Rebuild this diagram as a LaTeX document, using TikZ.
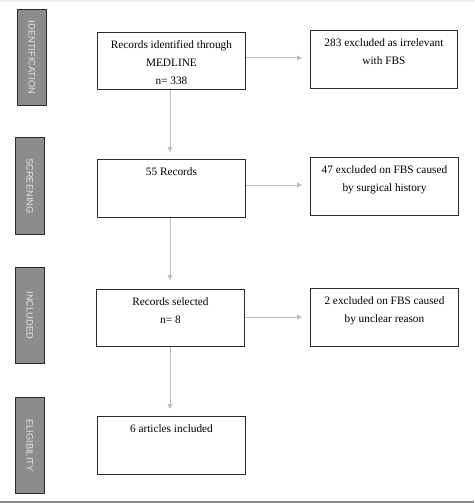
\documentclass[tikz,border=0pt]{standalone}
\usepackage{fontspec}
\setmainfont{Liberation Serif}
\setsansfont{Liberation Sans}
\usetikzlibrary{arrows.meta}
\definecolor{sidefill}{HTML}{8C8C8C}
\definecolor{sidetext}{HTML}{E6E6E6}
\definecolor{arrowgray}{HTML}{BDBDBD}
\definecolor{boxline}{HTML}{2B2B2B}
\definecolor{topband}{HTML}{ECECEC}
\definecolor{botband}{HTML}{8A8A8A}
\tikzset{
  sidebox/.style={draw=boxline, line width=0.9pt, fill=sidefill, minimum width=29pt, minimum height=96pt, inner sep=0pt, anchor=north west},
  sidelbl/.style={font=\sffamily\fontsize{9.3}{11}\selectfont, text=sidetext, rotate=-90, inner sep=0pt},
  mainbox/.style={draw=boxline, line width=0.9pt, minimum width=148pt, minimum height=57pt, inner sep=0pt, anchor=north west},
  boxtext/.style={font=\fontsize{11.3}{18}\selectfont, align=center, anchor=north, inner sep=0pt, yshift=-8.8pt},
  flow/.style={draw=arrowgray, line width=1pt, -{Triangle[length=5pt,width=5pt]}}
}
\begin{document}
\begin{tikzpicture}[x=1pt,y=-1pt]
\useasboundingbox (0,0) rectangle (474,503);
\fill[topband] (0,0) rectangle (474,2.5);
\fill[botband] (0,500.5) rectangle (474,503);
% side labels
\node[sidebox] (s1) at (17,9) {};
\node[sidelbl] (s1t) at (s1.center) {IDENTIFICATION};
\node[sidebox, minimum height=97pt] (s2) at (15,137) {};
\node[sidelbl] (s2t) at (s2.center) {SCREENING};
\node[sidebox] (s3) at (15,267) {};
\node[sidelbl] (s3t) at (s3.center) {INCLUDED};
\node[sidebox] (s4) at (15,397) {};
\node[sidelbl] (s4t) at (s4.center) {ELIGIBILITY};
% main boxes
\node[mainbox] (b1) at (97,32) {};
\node[boxtext] (b1t) at (b1.north) {Records identified through\\MEDLINE\\n= 338};
\node[mainbox, minimum height=58pt] (b2) at (97,159) {};
\node[boxtext] (b2t) at (b2.north) {55 Records};
\node[mainbox] (b3) at (96,289) {};
\node[boxtext] (b3t) at (b3.north) {Records selected\\n= 8};
\node[mainbox, minimum height=58pt] (b4) at (97,416) {};
\node[boxtext] (b4t) at (b4.north) {6 articles included};
% right boxes
\node[mainbox, minimum width=147pt, minimum height=58pt] (r1) at (310,30) {};
\node[boxtext] (r1t) at (r1.north) {283 excluded as irrelevant\\with FBS};
\node[mainbox, minimum height=58pt] (r2) at (310,157) {};
\node[boxtext] (r2t) at (r2.north) {47 excluded on FBS caused\\by surgical history};
\node[mainbox, minimum height=58pt] (r3) at (310,288) {};
\node[boxtext] (r3t) at (r3.north) {2 excluded on FBS caused\\by unclear reason};
% connectors
\coordinate (v1) at (170,152);
\coordinate (v2) at (170,280);
\coordinate (v3) at (170,409);
\draw[flow] (b1.south -| v1) -- (v1);
\draw[flow] (b2.south -| v2) -- (v2);
\draw[flow] (b3.south -| v3) -- (v3);
\coordinate (h1) at (302,58);
\coordinate (h2) at (302,185);
\coordinate (h3) at (302,317);
\draw[flow] (b1.east |- h1) -- (h1);
\draw[flow] (b2.east |- h2) -- (h2);
\draw[flow] (b3.east |- h3) -- (h3);
\end{tikzpicture}
\end{document}
